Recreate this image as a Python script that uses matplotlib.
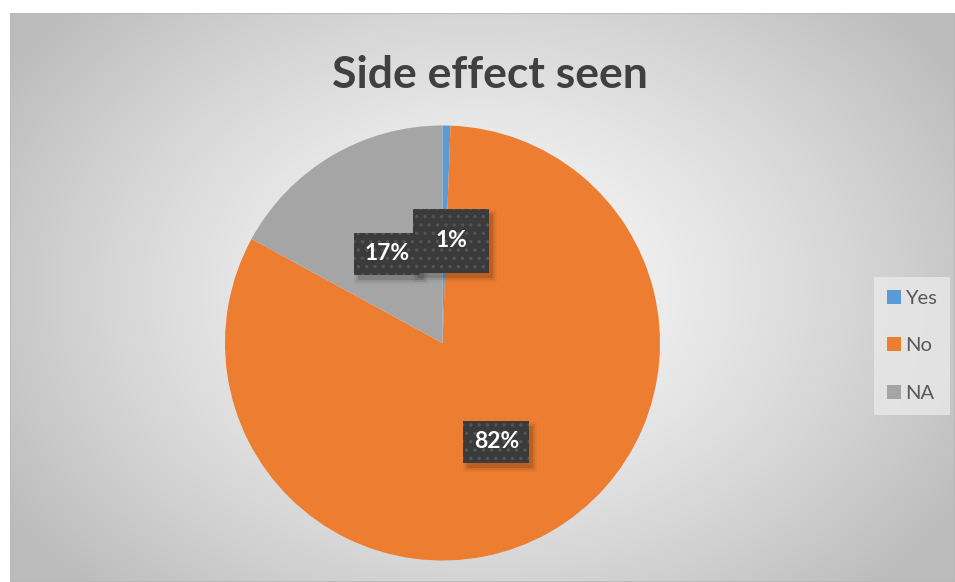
import numpy as np
import matplotlib.pyplot as plt
from matplotlib.patches import Rectangle
from matplotlib.transforms import IdentityTransform

# === DATA ===
categories = ["Yes", "No", "NA"]
counts = [1, 140, 29]
colors = ["#5B9BD5", "#ED7D31", "#A5A5A5"]
title = "Side effect seen"

W, H = 955, 582
plt.rcParams['font.family'] = ['Lato', 'DejaVu Sans']
plt.rcParams['hatch.color'] = '#4f4f4f'
plt.rcParams['hatch.linewidth'] = 1.2

fig = plt.figure(figsize=(W / 100, H / 100), dpi=100)
fig.patch.set_facecolor('white')

# chart area with radial gradient
x0, y0, x1, y1 = 10, 13, 955, 582  # pixel box, top-left origin
bg = fig.add_axes([x0 / W, 0, (x1 - x0) / W, (y1 - y0) / H])
yy, xx = np.mgrid[y0:y1, x0:x1]
cx, cy = 480, 290
d = np.hypot((xx - cx) / 560, (yy - cy) / 420)
d = np.clip(d, 0, 1)
val = (250 - 62 * d ** 1.3) / 255
bg.imshow(np.dstack([val, val, val]), aspect='auto', extent=(0, 1, 0, 1))
bg.add_patch(Rectangle((0, 0), 1, 1, transform=bg.transAxes, fill=False,
                       edgecolor='#b8b8b8', linewidth=1.2))
bg.set_xlim(0, 1)
bg.set_ylim(0, 1)
bg.axis('off')

# pie
pcx, pcy, r = 442.5, 343, 217.5
ax = fig.add_axes([(pcx - r) / W, (H - pcy - r) / H, 2 * r / W, 2 * r / H])
wedges, _ = ax.pie(counts, colors=colors, startangle=90, counterclock=False,
                   radius=1, wedgeprops=dict(linewidth=0))
ax.set_xlim(-1, 1)
ax.set_ylim(-1, 1)
ax.set_aspect('equal')
ax.axis('off')

# data labels in dark hatched boxes
total = sum(counts)
pads = [0.95, 0.45, 0.45]
zorders = [6, 5, 5]
nudge = [(0.03, -0.03), (0.0, -0.02), (0.0, -0.02)]
labels = []
for w, c, pad, z, (nx, ny) in zip(wedges, counts, pads, zorders, nudge):
    ang = np.deg2rad((w.theta1 + w.theta2) / 2)
    lx, ly = 0.5 * np.cos(ang) + nx, 0.5 * np.sin(ang) + ny
    label = f"{round(100 * c / total):d}%"
    t = ax.text(lx, ly, label, ha='center', va='center', fontsize=16.5,
                weight='bold', color='white', zorder=z,
                bbox=dict(boxstyle=f'square,pad={pad}', facecolor='#3b3b3b',
                          edgecolor='#555555', linewidth=0, hatch='..'))
    labels.append(t)

# soft drop shadows behind the label boxes
fig.canvas.draw()
renderer = fig.canvas.get_renderer()
for t in labels:
    bb = t.get_bbox_patch().get_window_extent(renderer)
    for grow, a in [(0, 0.12), (2, 0.07), (4, 0.04)]:
        ax.add_patch(Rectangle((bb.x0 + 4 - grow, bb.y0 - 5 - grow),
                               bb.width + 2 * grow, bb.height + 2 * grow,
                               transform=IdentityTransform(), facecolor='black',
                               alpha=a, edgecolor='none', zorder=4))

fig.text(490 / W, 1 - 75 / H, title, ha='center', va='center',
         fontsize=32, weight='bold', color='#404040')

handles = [Rectangle((0, 0), 1, 1, facecolor=c, edgecolor='none') for c in colors]
leg = fig.legend(handles, categories, loc='upper left',
                 bbox_to_anchor=(874 / W, 1 - 277 / H), frameon=True,
                 fontsize=14.5, labelspacing=1.5, handlelength=0.7,
                 handleheight=0.7, handletextpad=0.2, borderpad=0.65,
                 borderaxespad=0, fancybox=False, labelcolor='#595959')
leg.get_frame().set_facecolor('#e9e9e9')
leg.get_frame().set_edgecolor('none')

fig.savefig("out.png", dpi=100)
